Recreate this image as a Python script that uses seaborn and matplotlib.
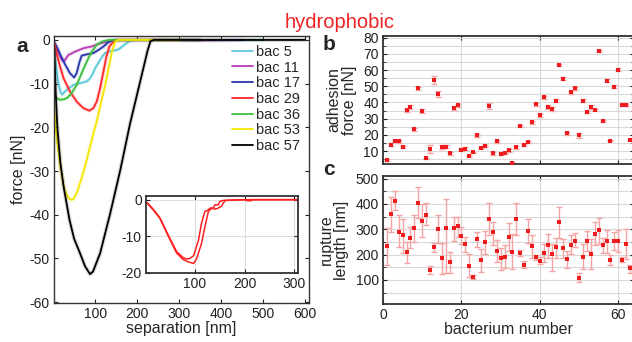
import numpy as np
import seaborn as sns
import matplotlib.pyplot as plt
from matplotlib.ticker import MultipleLocator

sns.set_theme(style="ticks")
plt.rcParams['font.family'] = ['Liberation Sans', 'DejaVu Sans']
plt.rcParams['axes.unicode_minus'] = False

# ---- panel a: force curves (separation nm, force nN)
curves = {
    "bac 5": ([3, 7, 12, 17, 21, 26, 33, 48, 64, 80, 88, 94, 100, 106, 112, 118, 124, 132, 140, 152, 160, 171, 183, 199, 300, 400, 500],
              [-2.7, -6, -9.5, -11.8, -12.5, -12, -11.4, -10.3, -9.9, -9.5, -8.8, -7.8, -6.5, -5.5, -4.6, -3.7, -3.0, -2.7, -2.5, -2.3, -1.9, -1.0, -0.2, 0, 0, -0.1, 0]),
    "bac 11": ([3, 8, 14, 20, 25, 30, 37, 52, 72, 92, 112, 132, 151, 250, 350, 450],
               [-0.8, -1.8, -3.2, -4.4, -5.0, -4.3, -3.4, -2.7, -1.9, -1.5, -0.8, -0.3, 0, 0, -0.1, 0]),
    "bac 17": ([3, 10, 17, 29, 40, 50, 56, 63, 68, 80, 96, 108, 120, 132, 144, 250, 350],
               [-0.6, -1.8, -3.4, -5.7, -7.6, -8.6, -7.6, -5.0, -3.6, -3.3, -3.0, -2.3, -1.5, -0.5, -0.1, 0, 0]),
    "bac 29": ([3, 9, 17, 25, 40, 56, 72, 86, 96, 104, 112, 120, 126, 134, 144, 155, 250, 350],
               [-0.8, -3.4, -6.3, -8.8, -11.8, -14.1, -15.6, -16.2, -15.6, -14.1, -11.0, -7.2, -4.2, -1.5, -0.4, 0, 0, 0]),
    "bac 36": ([2, 8, 17, 25, 33, 44, 56, 68, 80, 92, 104, 116, 132, 250, 350],
               [-12.5, -13.3, -13.7, -13.6, -13.3, -12.2, -10.3, -7.6, -4.95, -2.7, -1.1, -0.4, 0, 0, 0]),
    "bac 53": ([2, 5, 9, 13, 18, 25, 32, 38, 44, 50, 57, 68, 78, 88, 96, 104, 114, 124, 132, 140, 148, 155, 300],
               [-15, -19, -23, -25.9, -29.5, -33.5, -35.4, -36.3, -36.6, -36.2, -34.8, -31.6, -28.2, -24.4, -21.4, -18.6, -14.3, -10.3, -6.6, -2.7, -0.4, 0, 0]),
    "bac 57": ([3, 6, 10, 17, 25, 39, 50, 64, 76, 88, 95, 112, 136, 160, 183, 205, 225, 232, 240, 600],
               [-2, -12, -20, -28, -33.6, -41.2, -45.5, -48.8, -51.8, -53.6, -53, -48.8, -39.7, -29.8, -19.3, -10.5, -2.5, -0.3, 0, 0]),
}
colors = ["#5cc8dc", "#b83cb8", "#2836a8", "#ff2828", "#3cc03c", "#f5e600", "#000000"]

# inset: two curves of bac 29
inset_a_x = [1, 15, 29, 49, 63, 76, 83, 90, 97, 107, 113, 120, 127, 130, 137, 140, 147, 150, 157, 200, 308]
inset_a_y = [-0.5, -2.5, -4.9, -10.5, -14.2, -15.8, -16.2, -16.0, -15.3, -11.1, -6.5, -3.2, -2.8, -2.3, -2.3, -1.4, -1.4, -0.5, -0.2, 0, 0]
inset_b_x = [1, 15, 29, 49, 63, 76, 85, 97, 103, 113, 120, 127, 134, 140, 147, 154, 157, 162, 200, 206, 212, 218, 308]
inset_b_y = [-0.6, -2.7, -5.1, -10.8, -14.6, -16.3, -16.9, -17.4, -16.2, -12.0, -7.4, -3.2, -2.3, -2.6, -2.3, -1.7, -0.9, -0.2, 0, -0.3, -0.3, 0, 0]

# ---- panels b, c
bac = np.arange(1, 64)
adhesion = [4.3, 14.0, 16.3, 15.9, 12.4, 35.1, 37.4, 23.3, 48.7, 34.5,
            5.4, 11.2, 53.7, 45.2, 12.4, 12.6, 8.5, 36.6, 38.2, 10.9,
            11.4, 6.8, 9.1, 19.6, 12.0, 13.0, 37.8, 8.5, 15.9, 8.1,
            8.5, 10.5, 2.7, 12.2, 25.6, 13.6, 15.7, 27.7, 38.8, 32.0,
            43.2, 37.2, 35.9, 41.1, 63.2, 54.7, 20.9, 46.3, 48.7, 19.6,
            41.1, 34.1, 37.2, 35.3, 71.7, 28.3, 53.5, 16.5, 49.8, 60.3,
            38.4, 38.4, 16.9]
adhesion_err = [0.6, 1, 0.8, 0.8, 0.8, 1, 1.2, 0.8, 1, 1.2,
                0.6, 2.5, 2.5, 2, 1.2, 1, 0.8, 1.2, 1, 0.8,
                0.8, 0.6, 0.6, 0.8, 0.8, 0.8, 1.6, 0.8, 0.8, 0.6,
                0.6, 1, 0.6, 1.2, 0.6, 0.6, 0.8, 0.8, 1, 0.8,
                1, 1, 1, 1, 0.8, 0.8, 0.8, 0.8, 1, 1.5,
                0.8, 0.8, 1, 0.8, 0.8, 0.6, 0.8, 0.6, 0.8, 1,
                0.8, 0.8, 0.6]
rupture = [234, 361, 412, 291, 276, 209, 266, 306, 403, 332,
           358, 139, 228, 300, 188, 303, 169, 303, 311, 274,
           241, 156, 112, 260, 177, 248, 342, 289, 214, 185,
           191, 268, 209, 342, 207, 160, 293, 232, 189, 176,
           207, 236, 202, 228, 327, 227, 183, 236, 255, 109,
           192, 255, 202, 283, 295, 236, 255, 179, 253, 253,
           180, 241, 146]
rupture_top = [303, 429, 449, 356, 342, 249, 310, 358, 468, 398,
               402, 154, 247, 356, 247, 418, 212, 347, 347, 307,
               270, 201, 121, 291, 222, 293, 405, 328, 258, 227,
               237, 323, 280, 405, 220, 175, 339, 279, 199, 189,
               241, 281, 240, 264, 388, 262, 214, 276, 285, 129,
               241, 293, 260, 327, 345, 266, 298, 198, 289, 297,
               189, 301, 159]
rupture_bot = [159, 289, 375, 228, 207, 168, 224, 251, 345, 268,
               315, 125, 211, 247, 125, 126, 126, 253, 270, 243,
               209, 110, 105, 228, 131, 201, 278, 239, 169, 138,
               148, 214, 142, 278, 194, 147, 247, 185, 177, 163,
               171, 188, 137, 188, 264, 186, 147, 201, 229, 91,
               143, 216, 143, 239, 241, 206, 207, 160, 218, 210,
               171, 181, 126]

W, H = 632, 342
fig = plt.figure(figsize=(W / 100, H / 100), dpi=100)

def px_axes(x0, y0, x1, y1):
    return fig.add_axes([x0 / W, 1 - y1 / H, (x1 - x0) / W, (y1 - y0) / H])

spine_c = "#333333"
def style(ax, lw=1.0):
    for s in ax.spines.values():
        s.set_color(spine_c)
        s.set_linewidth(lw)
    ax.tick_params(direction="in", top=True, right=True, labelsize=10,
                   colors="#222222", length=3, width=0.8, pad=3)
    ax.tick_params(which="minor", direction="in", length=2, width=0.6, right=True)

# panel a
ax = px_axes(54, 36, 309, 303)
for (name, (xs, ys)), c in zip(curves.items(), colors):
    ax.plot(xs, ys, color=c, lw=3, alpha=0.15, solid_capstyle="round")
    sns.lineplot(x=xs, y=ys, color=c, lw=1.3, label=name, ax=ax, sort=False, estimator=None)
ax.set_xlim(2, 610)
ax.set_ylim(-60.2, 0.9)
ax.set_xticks([100, 200, 300, 400, 500, 600])
ax.set_yticks([0, -10, -20, -30, -40, -50, -60])
style(ax)
ax.set_xlabel("separation [nm]", fontsize=11.5, labelpad=0)
ax.set_ylabel("force [nN]", fontsize=11.5)
ax.yaxis.set_label_coords(-0.11, 0.5)
leg = ax.legend(loc="upper right", bbox_to_anchor=(1.0, 1.0), frameon=False, fontsize=10.5,
                handlelength=1.45, handletextpad=0.2, labelspacing=0.12, borderaxespad=0.2)

# inset
ins = px_axes(146, 196, 298, 273)
sns.lineplot(x=inset_a_x, y=inset_a_y, color="#ff2020", lw=1.1, ax=ins, sort=False, estimator=None)
sns.lineplot(x=inset_b_x, y=inset_b_y, color="#ff2020", lw=1.1, ax=ins, sort=False, estimator=None)
ins.set_xlim(1, 308)
ins.set_ylim(-20, 1)
ins.set_xticks([100, 200, 300])
ins.set_yticks([0, -10, -20])
ins.grid(True, color="#dddddd", lw=0.8)
style(ins, lw=1.3)
ins.set_facecolor("white")

ecol = "#f5a3a3"
mcol = "#ee1c1c"

# panel b
axb = px_axes(383, 36, 634, 164)
axb.errorbar(bac, adhesion, yerr=adhesion_err, fmt="none", ecolor=ecol, elinewidth=1,
             capsize=2.2, capthick=1, zorder=2)
sns.scatterplot(x=bac, y=adhesion, marker="s", s=9, color=mcol, edgecolor=mcol, linewidth=0,
                ax=axb, zorder=3)
axb.set_xlim(0, 64)
axb.set_ylim(2, 81)
axb.set_xticks([0, 20, 40, 60])
axb.set_xticklabels([])
axb.set_yticks([10, 20, 30, 40, 50, 60, 70, 80])
axb.yaxis.set_minor_locator(MultipleLocator(5))
axb.grid(True, which="both", axis="y", color="#d9d9d9", lw=0.8)
axb.grid(True, which="major", axis="x", color="#d9d9d9", lw=0.8)
style(axb, lw=1.3)
axb.set_ylabel("adhesion\nforce [nN]", fontsize=11.5, linespacing=1.0)
axb.yaxis.set_label_coords(-0.105, 0.5)

# panel c
axc = px_axes(383, 176, 634, 304)
lo = np.array(rupture) - np.array(rupture_bot)
hi = np.array(rupture_top) - np.array(rupture)
axc.errorbar(bac, rupture, yerr=[lo, hi], fmt="none", ecolor=ecol, elinewidth=1,
             capsize=2.2, capthick=1, zorder=2)
sns.scatterplot(x=bac, y=rupture, marker="s", s=9, color=mcol, edgecolor=mcol, linewidth=0,
                ax=axc, zorder=3)
axc.set_xlim(0, 64)
axc.set_ylim(5, 510)
axc.set_xticks([0, 20, 40, 60])
axc.set_yticks([100, 200, 300, 400, 500])
axc.yaxis.set_minor_locator(MultipleLocator(50))
axc.grid(True, which="both", axis="y", color="#d9d9d9", lw=0.8)
axc.grid(True, which="major", axis="x", color="#d9d9d9", lw=0.8)
style(axc, lw=1.3)
axc.set_xlabel("bacterium number", fontsize=11.5, labelpad=0)
axc.set_ylabel("rupture\nlength [nm]", fontsize=11.5, linespacing=1.0)
axc.yaxis.set_label_coords(-0.135, 0.5)

# labels
fig.text(0.035, 1 - 52 / H, "a", fontsize=15, fontweight="bold", ha="center", va="baseline")
fig.text(329 / W, 1 - 50 / H, "b", fontsize=15, fontweight="bold", ha="center", va="baseline")
fig.text(329 / W, 1 - 175 / H, "c", fontsize=15, fontweight="bold", ha="center", va="baseline")
fig.text(339.5 / W, 1 - 28.5 / H, "hydrophobic", fontsize=14.5, color="#ee2222", ha="center", va="baseline")

fig.savefig("out.png", dpi=100)
